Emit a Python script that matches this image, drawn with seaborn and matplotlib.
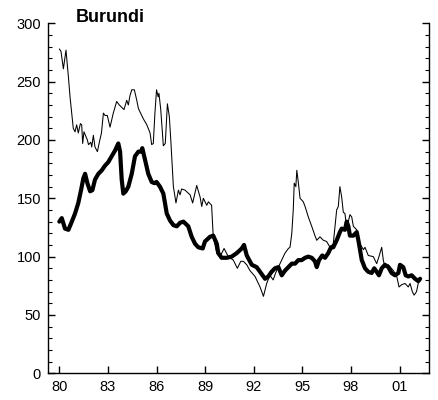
import numpy as np
import pandas as pd
import matplotlib
matplotlib.use("Agg")
import matplotlib.pyplot as plt
import seaborn as sns
from matplotlib.ticker import MultipleLocator, FixedLocator

sns.set_theme(style="white")
plt.rcParams['font.family'] = ['Liberation Sans', 'DejaVu Sans']
plt.rcParams['text.color'] = 'black'

# Thin series (fractional years, index values)
thin_t = [1980.0, 1980.1, 1980.25, 1980.41, 1980.56, 1980.66, 1980.86, 1980.97, 1981.07, 1981.17,
          1981.3, 1981.38, 1981.44, 1981.52, 1981.73, 1981.8, 1981.94, 1982.0, 1982.1, 1982.2,
          1982.35, 1982.5, 1982.6, 1982.72, 1982.82, 1982.96, 1983.13, 1983.33, 1983.54, 1983.7,
          1983.85, 1983.99, 1984.16, 1984.26, 1984.36, 1984.47, 1984.63, 1984.78, 1984.88, 1984.98,
          1985.19, 1985.4, 1985.6, 1985.7, 1985.8, 1985.9, 1986.0, 1986.1, 1986.15, 1986.26,
          1986.42, 1986.54, 1986.67, 1986.79, 1986.88, 1986.96, 1987.04, 1987.2, 1987.35, 1987.45,
          1987.55, 1987.76, 1988.07, 1988.23, 1988.48, 1988.69, 1988.79, 1988.89, 1989.1, 1989.2,
          1989.4, 1989.5, 1989.72, 1989.92, 1990.17, 1990.43, 1990.74, 1990.99, 1991.2, 1991.36,
          1991.57, 1991.77, 1992.08, 1992.39, 1992.6, 1992.8, 1993.0, 1993.2, 1993.35, 1993.52,
          1993.73, 1993.93, 1994.14, 1994.24, 1994.35, 1994.44, 1994.5, 1994.6, 1994.66, 1994.75,
          1994.86, 1995.06, 1995.17, 1995.37, 1995.58, 1995.78, 1995.89, 1996.09, 1996.3, 1996.5,
          1996.71, 1996.91, 1997.02, 1997.12, 1997.22, 1997.32, 1997.43, 1997.53, 1997.63, 1997.74,
          1997.94, 1998.05, 1998.15, 1998.36, 1998.56, 1998.77, 1998.87, 1999.07, 1999.38, 1999.59,
          1999.73, 1999.9, 2000.0, 2000.1, 2000.31, 2000.62, 2000.83, 2000.97, 2001.14, 2001.34,
          2001.54, 2001.65, 2001.79, 2001.9, 2002.05, 2002.2]
thin_v = [278, 276, 261, 277, 254, 237, 210, 207, 213, 206,
          214, 213, 197, 207, 200, 196, 198, 194, 204, 194,
          190, 200, 206, 223, 221, 221, 211, 223, 233, 230,
          228, 226, 234, 230, 238, 243, 243, 234, 227, 224,
          218, 213, 206, 196, 197, 223, 243, 237, 240, 226,
          195, 197, 231, 220, 200, 180, 160, 146, 157, 153,
          158, 157, 153, 146, 161, 151, 143, 150, 144, 147,
          144, 117, 103, 100, 107, 100, 97, 90, 96, 96,
          93, 88, 83, 74, 66, 77, 84, 80, 86, 91,
          97, 103, 107, 108, 120, 140, 163, 160, 174, 164,
          150, 147, 143, 134, 126, 118, 114, 117, 114, 113,
          108, 111, 126, 140, 143, 160, 151, 138, 137, 124,
          136, 134, 126, 123, 111, 106, 108, 101, 100, 94,
          100, 108, 97, 91, 93, 88, 83, 74, 76, 77,
          74, 77, 70, 67, 70, 80]

# Thick series
thick_t = [1980.0, 1980.15, 1980.35, 1980.56, 1980.77, 1980.97, 1981.17, 1981.34, 1981.48, 1981.59,
           1981.73, 1981.9, 1982.04, 1982.2, 1982.41, 1982.62, 1982.82, 1983.02, 1983.23, 1983.44,
           1983.64, 1983.75, 1983.85, 1983.95, 1984.1, 1984.26, 1984.47, 1984.67, 1984.88, 1985.04,
           1985.12, 1985.29, 1985.49, 1985.7, 1985.86, 1986.0, 1986.21, 1986.42, 1986.52, 1986.63,
           1986.83, 1987.04, 1987.25, 1987.45, 1987.66, 1987.96, 1988.17, 1988.38, 1988.58, 1988.85,
           1988.99, 1989.3, 1989.5, 1989.72, 1989.81, 1990.02, 1990.33, 1990.64, 1990.95, 1991.26,
           1991.4, 1991.57, 1991.88, 1992.18, 1992.39, 1992.7, 1992.9, 1993.1, 1993.31, 1993.52,
           1993.73, 1993.93, 1994.14, 1994.35, 1994.55, 1994.75, 1994.96, 1995.17, 1995.37, 1995.58,
           1995.78, 1995.89, 1996.03, 1996.23, 1996.4, 1996.6, 1996.77, 1996.91, 1997.12, 1997.32,
           1997.43, 1997.63, 1997.74, 1997.84, 1997.94, 1998.15, 1998.36, 1998.46, 1998.56, 1998.67,
           1998.87, 1999.07, 1999.28, 1999.44, 1999.59, 1999.73, 1999.9, 2000.1, 2000.31, 2000.51,
           2000.72, 2000.93, 2001.03, 2001.23, 2001.38, 2001.54, 2001.75, 2001.96, 2002.16, 2002.27]
thick_v = [130, 133, 124, 123, 130, 137, 146, 157, 167, 171,
           163, 156, 157, 166, 171, 174, 178, 181, 186, 191,
           197, 190, 166, 154, 156, 160, 171, 186, 190, 190,
           193, 183, 171, 164, 163, 164, 160, 154, 146, 137,
           131, 127, 126, 129, 130, 126, 117, 111, 108, 107,
           113, 117, 118, 111, 103, 99, 99, 100, 103, 107,
           110, 101, 93, 91, 87, 81, 83, 87, 90, 91,
           84, 88, 91, 94, 94, 97, 97, 99, 100, 99,
           96, 91, 97, 101, 99, 103, 108, 108, 114, 121,
           124, 123, 130, 126, 118, 118, 121, 114, 106, 97,
           90, 87, 86, 90, 87, 84, 90, 93, 91, 86,
           84, 86, 93, 91, 84, 83, 84, 81, 79, 81]

x_ticks = [1980, 1983, 1986, 1989, 1992, 1995, 1998, 2001]
x_labels = ['80', '83', '86', '89', '92', '95', '98', '01']

df_thin = pd.DataFrame({'t': thin_t, 'v': thin_v})
df_thick = pd.DataFrame({'t': thick_t, 'v': thick_v})

fig = plt.figure(figsize=(4.38, 4.0), dpi=100)
ax = fig.add_axes([48/438, 1 - 373.3/400, (429 - 48)/438, (373.3 - 23.3)/400])

sns.lineplot(data=df_thin, x='t', y='v', ax=ax, color='black', linewidth=0.75)
sns.lineplot(data=df_thick, x='t', y='v', ax=ax, color='black', linewidth=3.0)

ax.set_xlim(1979.3, 2002.82)
ax.set_ylim(0, 300)
ax.set_xlabel('')
ax.set_ylabel('')
ax.xaxis.set_major_locator(FixedLocator(x_ticks))
ax.set_xticklabels(x_labels)
ax.yaxis.set_major_locator(MultipleLocator(50))
ax.yaxis.set_minor_locator(MultipleLocator(10))

for s in ['left', 'bottom', 'right']:
    ax.spines[s].set_visible(True)
    ax.spines[s].set_color('black')
    ax.spines[s].set_linewidth(1.0)
ax.spines['top'].set_visible(False)

ax.tick_params(axis='both', which='major', direction='in', length=5, width=1, color='black',
               labelsize=10.5, labelcolor='black', pad=5)
ax.tick_params(axis='y', which='minor', direction='in', length=3, width=0.8, color='black')
ax.tick_params(axis='y', which='both', left=True, right=True, labelleft=True, labelright=False)
ax.tick_params(axis='x', which='both', bottom=True, top=False)
ax.grid(False)

fig.text(76/438, 1 - 21.5/400, 'Burundi', ha='left', va='baseline', fontsize=13,
         fontweight='bold', color='black')

fig.savefig('out.png', dpi=100)
